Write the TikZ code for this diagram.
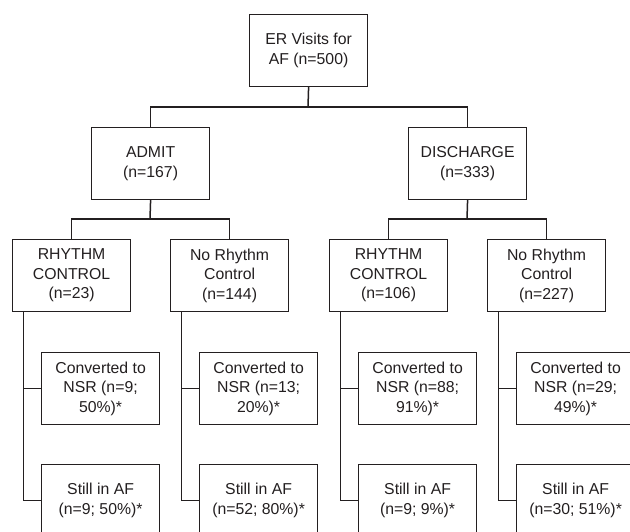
\documentclass[tikz,border=0pt]{standalone}
\usepackage{fontspec}
\setmainfont{Liberation Sans}
\definecolor{ink}{HTML}{231F20}
\begin{document}
\begin{tikzpicture}[x=1pt,y=-1pt,
  box/.style={draw=ink,line width=1.2pt,minimum width=118pt,minimum height=72pt,inner sep=0pt,align=center,anchor=north west,text=ink,font=\fontsize{15.8pt}{19.5pt}\selectfont},
  link/.style={draw=ink,line width=1.5pt}]
\useasboundingbox (0,0) rectangle (630,531);
\clip (0,0) rectangle (630,531);
\fill[white] (0,0) rectangle (630,531);
% level 1
\node[box] (root) at (249,14) {ER Visits for\\AF (n=500)};
% level 2
\node[box] (admit) at (91,127) {ADMIT\\(n=167)};
\node[box] (disch) at (408,127) {DISCHARGE\\(n=333)};
% level 3
\node[box] (r1) at (12,239) {RHYTHM\\CONTROL\\(n=23)};
\node[box] (r2) at (170,239) {No Rhythm\\Control\\(n=144)};
\node[box] (r3) at (329,239) {RHYTHM\\CONTROL\\(n=106)};
\node[box] (r4) at (487,239) {No Rhythm\\Control\\(n=227)};
% level 4
\node[box] (c1) at (41,352) {Converted to\\NSR (n=9;\\50\%)*};
\node[box] (c2) at (199,352) {Converted to\\NSR (n=13;\\20\%)*};
\node[box] (c3) at (358,352) {Converted to\\NSR (n=88;\\91\%)*};
\node[box] (c4) at (516,352) {Converted to\\NSR (n=29;\\49\%)*};
% level 5
\node[box] (s1) at (41,464) {Still in AF\\(n=9; 50\%)*};
\node[box] (s2) at (199,464) {Still in AF\\(n=52; 80\%)*};
\node[box] (s3) at (358,464) {Still in AF\\(n=9; 9\%)*};
\node[box] (s4) at (516,464) {Still in AF\\(n=30; 51\%)*};
% forks
\coordinate (f0) at (308,107);
\coordinate (fa) at (150,219);
\coordinate (fd) at (467,219);
\draw[link] (root.south) -- (f0);
\draw[link] (admit.north) |- (f0) -| (disch.north);
\draw[link] (admit.south) -- (fa);
\draw[link] (r1.north) |- (fa) -| (r2.north);
\draw[link] (disch.south) -- (fd);
\draw[link] (r3.north) |- (fd) -| (r4.north);
% branches
\foreach \i in {1,2,3,4}{
  \coordinate (t\i) at ([xshift=11.5pt]r\i.south west);
  \draw[link] (t\i) |- (s\i.west);
  \draw[link] (t\i |- c\i.west) -- (c\i.west);
}
\end{tikzpicture}
\end{document}
